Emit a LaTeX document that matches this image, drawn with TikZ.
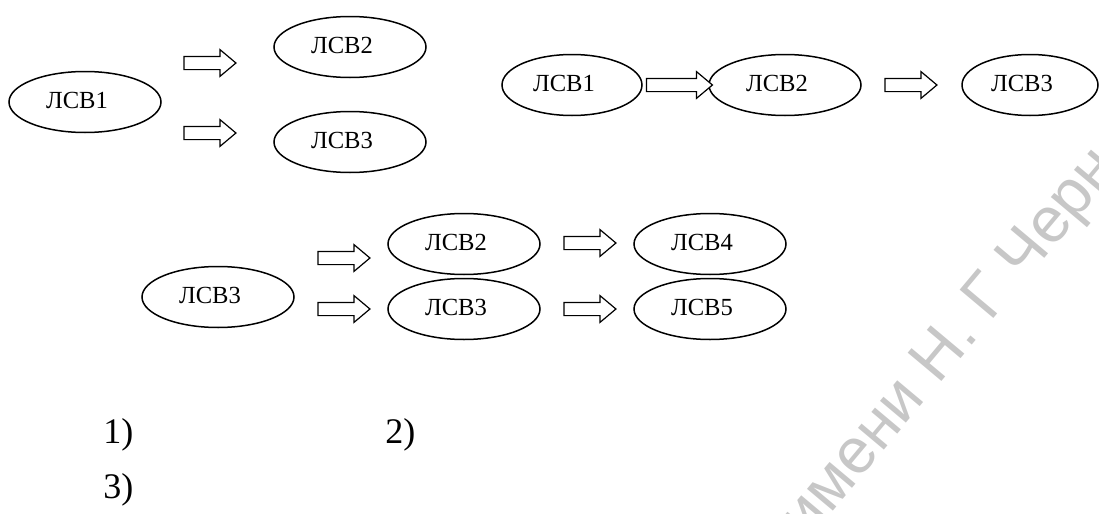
\documentclass[tikz,border=0pt]{standalone}
\usepackage{fontspec}
\setmainfont{Liberation Serif}
\newfontfamily\wmfont{Liberation Sans}
\usetikzlibrary{shapes.geometric,shapes.arrows,calc}

\begin{document}
\begin{tikzpicture}[x=0.5pt,y=-0.5pt,
  lsv/.style={ellipse, draw, line width=0.75pt, minimum width=76pt,
    minimum height=30.5pt, inner sep=0pt},
  lsvtext/.style={font=\fontsize{12.3}{14}\selectfont, xshift=-4pt, yshift=1pt},
  blk/.style={single arrow, draw, line width=0.6pt, fill=white,
    inner sep=3pt, single arrow head extend=3.4pt,
    single arrow tip angle=80, minimum height=26pt},
  num/.style={font=\fontsize{18}{20}\selectfont, anchor=west, inner sep=0pt},
  wm/.style={font=\wmfont\fontsize{32}{34}\selectfont, text=black!22, rotate=50}]

\useasboundingbox (0,0) rectangle (1099,514);

% watermark behind the drawing
\node[wm] (wmark) at (952,345) {имени Н. Г Черн};

% scheme 1: one state branching into two
\node[lsv, label={[lsvtext]center:ЛСВ1}] (a1) at (85,102) {};
\node[lsv, label={[lsvtext]center:ЛСВ2}] (a2) at (350,47) {};
\node[lsv, label={[lsvtext]center:ЛСВ3}] (a3) at (350,142) {};
\node[blk] (a12) at (206,63) {};
\node[blk] (a13) at (206,133) {};

% scheme 2: a chain of three states
\node[lsv, minimum width=70pt, label={[lsvtext]center:ЛСВ1}] (b1) at (572,85) {};
\node[lsv, label={[lsvtext]center:ЛСВ2}] (b2) at (785,85) {};
\node[lsv, minimum width=68pt, label={[lsvtext]center:ЛСВ3}] (b3) at (1030,85) {};
\path (b1.east) -- (b2.west) node[blk, midway, minimum height=33pt] (b12) {};
\node[blk] (b23) at (907,85) {};

% scheme 3: two parallel chains
\node[lsv, label={[lsvtext]center:ЛСВ3}] (c0) at (218,297) {};
\node[lsv, label={[lsvtext]center:ЛСВ2}] (c1) at (464,244) {};
\node[lsv, label={[lsvtext]center:ЛСВ3}] (c2) at (464,309) {};
\node[lsv, label={[lsvtext]center:ЛСВ4}] (c3) at (710,244) {};
\node[lsv, label={[lsvtext]center:ЛСВ5}] (c4) at (710,309) {};
\node[blk] (c01) at (340,258) {};
\node[blk] (c02) at (340,309) {};
\node[blk] (c13) at (586,243) {};
\node[blk] (c24) at (586,309) {};

% captions
\node[num] (n1) at (103,435) {1)};
\node[num] (n2) at (385,435) {2)};
\node[num] (n3) at (103,490) {3)};
\end{tikzpicture}
\end{document}
